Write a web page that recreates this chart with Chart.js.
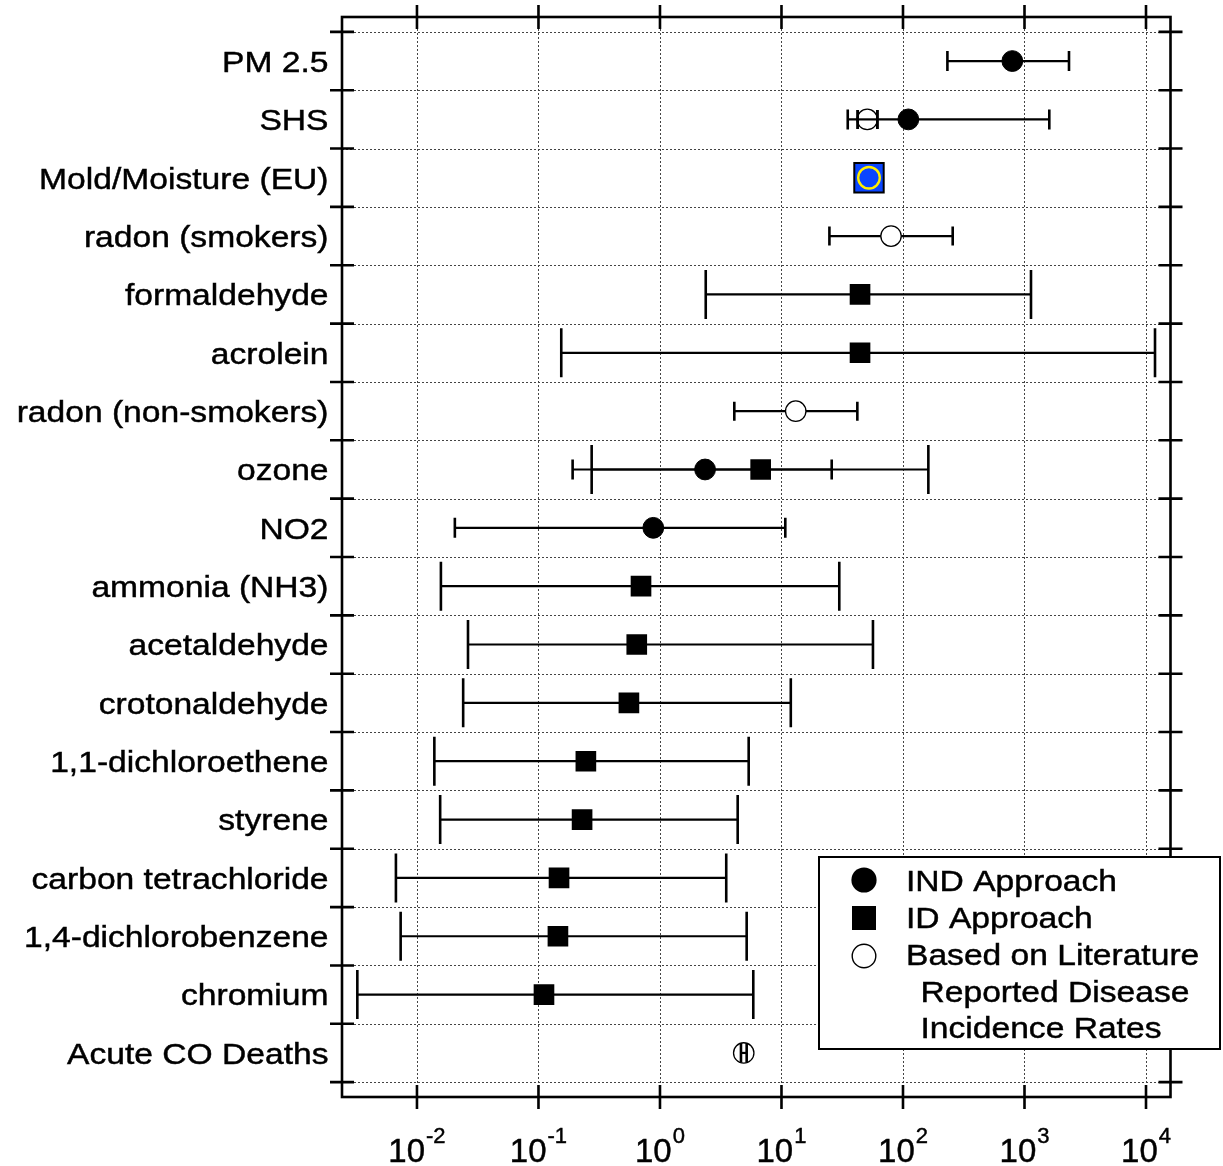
<!DOCTYPE html>
<html>
<head>
<meta charset="utf-8">
<script src="https://cdn.jsdelivr.net/npm/chart.js@4.4.0/dist/chart.umd.min.js"></script>
<style>
  html, body { margin: 0; padding: 0; background: #fff; }
  #wrap { position: relative; width: 1223px; height: 1166px; }
</style>
</head>
<body>
<div id="wrap"><canvas id="c" width="1223" height="1166"></canvas></div>
<script>
// Agents, top to bottom
const categories = [
  'PM 2.5', 'SHS', 'Mold/Moisture (EU)', 'radon (smokers)', 'formaldehyde',
  'acrolein', 'radon (non-smokers)', 'ozone', 'NO2', 'ammonia (NH3)',
  'acetaldehyde', 'crotonaldehyde', '1,1-dichloroethene', 'styrene',
  'carbon tetrachloride', '1,4-dichlorobenzene', 'chromium', 'Acute CO Deaths'
];

// IND approach: central estimate and range
const indValue = [794, 110.7, null, null, null, null, null, 2.35, 0.881, null, null, null, null, null, null, null, null, null];
const indLow   = [232, 35.1,  null, null, null, null, null, 0.191, 0.0205, null, null, null, null, null, null, null, null, null];
const indHigh  = [2324, 1600, null, null, null, null, null, 25.9, 10.75, null, null, null, null, null, null, null, null, null];

// ID approach: central estimate and range
const idValue = [null, null, null, null, 44.3, 44.3, null, 6.74, null, 0.698, 0.644, 0.555, 0.2455, 0.2285, 0.1476, 0.1446, 0.111, null];
const idLow   = [null, null, null, null, 2.38, 0.154, null, 0.274, null, 0.01574, 0.0263, 0.0240, 0.0139, 0.01552, 0.00671, 0.00734, 0.00323, null];
const idHigh  = [null, null, null, null, 1131, 11860, null, 161.7, null, 29.9, 56.6, 11.93, 5.37, 4.36, 3.51, 5.17, 5.86, null];

// Based on literature reported disease incidence rates
const litValue = [null, 50.8, null, 79.7, null, null, 13.1, null, null, null, null, null, null, null, null, null, null, 4.89];
const litLow   = [null, 42.4, null, 24.8, null, null, 4.09, null, null, null, null, null, null, null, null, null, null, 4.64];
const litHigh  = [null, 61.5, null, 256.5, null, null, 42.1, null, null, null, null, null, null, null, null, null, null, 5.17];

// EU mold/moisture estimate (highlighted)
const moldValue = [null, null, 52.5, null, null, null, null, null, null, null, null, null, null, null, null, null, null, null];

// Axis settings
const xTickExponents = [-2, -1, 0, 1, 2, 3, 4];
const xMin = Math.pow(10, -2.617);
const xMax = Math.pow(10, 4.2016);
const legendLines = [
  ['IND Approach'],
  ['ID Approach'],
  ['Based on Literature', 'Reported Disease', 'Incidence Rates']
];

const FONT = '"Liberation Sans", Arial, Helvetica, sans-serif';

function toPoints(vals, lows, highs) {
  const pts = [];
  vals.forEach((v, i) => {
    if (v === null) return;
    pts.push({ x: v, y: i, lo: lows ? lows[i] : null, hi: highs ? highs[i] : null });
  });
  return pts;
}

// lower "order" is painted on top
const datasets = [
  {
    label: 'ID Approach',
    data: toPoints(idValue, idLow, idHigh),
    order: 3,
    pointStyle: 'rect', pointRadius: 14.6, borderWidth: 0,
    backgroundColor: '#000', borderColor: '#000',
    capHalf: 24.5, markerHalf: 10.8
  },
  {
    label: 'IND Approach',
    data: toPoints(indValue, indLow, indHigh),
    order: 2,
    pointStyle: 'circle', pointRadius: 10.4, borderWidth: 1,
    backgroundColor: '#000', borderColor: '#000',
    capHalf: 10, markerHalf: 10.8
  },
  {
    label: 'Based on Literature Reported Disease Incidence Rates',
    data: toPoints(litValue, litLow, litHigh),
    order: 4,
    pointStyle: 'circle', pointRadius: 10.2, borderWidth: 1.3,
    backgroundColor: '#fff', borderColor: '#000',
    capHalf: 9.5, markerHalf: 10.8
  },
  {
    label: 'Mold/Moisture (EU)',
    data: toPoints(moldValue),
    order: 1,
    pointStyle: 'rect', pointRadius: 20.8, borderWidth: 2,
    backgroundColor: '#0a45ff', borderColor: '#000'
  },
  {
    label: 'Mold/Moisture (EU) ring',
    data: toPoints(moldValue),
    order: 0,
    pointStyle: 'circle', pointRadius: 10.8, borderWidth: 2.4,
    backgroundColor: 'rgba(0,0,0,0)', borderColor: '#ffee00'
  }
];

function drawErrorBars(chart, onlyNarrow) {
  const ctx = chart.ctx;
  const xs = chart.scales.x, ys = chart.scales.y;
  chart.data.datasets.forEach(ds => {
    if (!ds.capHalf) return;
    ds.data.forEach(p => {
      if (p.lo == null || p.hi == null) return;
      const y = ys.getPixelForValue(p.y);
      const x1 = xs.getPixelForValue(p.lo);
      const x2 = xs.getPixelForValue(p.hi);
      const narrow = (x2 - x1) < 2 * ds.markerHalf;
      if (onlyNarrow && !narrow) return;
      ctx.save();
      ctx.strokeStyle = '#000';
      ctx.lineCap = 'butt';
      ctx.lineWidth = 2.2;
      ctx.beginPath();
      ctx.moveTo(x1, y); ctx.lineTo(x2, y);
      ctx.stroke();
      ctx.lineWidth = 2.6;
      ctx.beginPath();
      ctx.moveTo(x1, y - ds.capHalf); ctx.lineTo(x1, y + ds.capHalf);
      ctx.moveTo(x2, y - ds.capHalf); ctx.lineTo(x2, y + ds.capHalf);
      ctx.stroke();
      ctx.restore();
    });
  });
}

// text with a faint outline so glyphs read as heavy as the print
function heavyText(ctx, t, x, y, sx) {
  ctx.save();
  ctx.translate(x, y);
  if (sx) ctx.scale(sx, 1);
  ctx.lineWidth = 0.45;
  ctx.strokeStyle = ctx.fillStyle;
  ctx.fillText(t, 0, 0);
  ctx.strokeText(t, 0, 0);
  ctx.restore();
}

const framePlugin = {
  id: 'frame',
  beforeDatasetsDraw(chart) {
    const ctx = chart.ctx, a = chart.chartArea;
    const xs = chart.scales.x, ys = chart.scales.y;
    ctx.save();
    ctx.strokeStyle = '#444';
    ctx.lineWidth = 1;
    ctx.setLineDash([2, 2]);
    // vertical grid at decades
    xTickExponents.forEach(e => {
      const x = Math.round(xs.getPixelForValue(Math.pow(10, e))) + 0.5;
      ctx.beginPath(); ctx.moveTo(x, a.top); ctx.lineTo(x, a.bottom); ctx.stroke();
    });
    // horizontal grid between rows
    for (let i = 0; i <= categories.length; i++) {
      const y = Math.round(ys.getPixelForValue(i - 0.5)) + 0.5;
      ctx.beginPath(); ctx.moveTo(a.left, y); ctx.lineTo(a.right, y); ctx.stroke();
    }
    ctx.restore();
    drawErrorBars(chart, false);
  },
  afterDatasetsDraw(chart) {
    const ctx = chart.ctx, a = chart.chartArea;
    const xs = chart.scales.x, ys = chart.scales.y;
    drawErrorBars(chart, true);

    // frame
    ctx.save();
    ctx.strokeStyle = '#000';
    ctx.lineWidth = 2.6;
    ctx.strokeRect(a.left, a.top, a.right - a.left, a.bottom - a.top);

    // tick marks crossing the frame
    const T = 12;
    ctx.lineWidth = 2.6;
    ctx.beginPath();
    xTickExponents.forEach(e => {
      const x = xs.getPixelForValue(Math.pow(10, e));
      ctx.moveTo(x, a.top - T); ctx.lineTo(x, a.top + T);
      ctx.moveTo(x, a.bottom - T); ctx.lineTo(x, a.bottom + T);
    });
    for (let i = 0; i <= categories.length; i++) {
      const y = ys.getPixelForValue(i - 0.5);
      ctx.moveTo(a.left - T, y); ctx.lineTo(a.left + T, y);
      ctx.moveTo(a.right - T, y); ctx.lineTo(a.right + T, y);
    }
    ctx.stroke();

    // x tick labels: 10 with superscript exponent
    ctx.fillStyle = '#000';
    ctx.textAlign = 'left';
    ctx.textBaseline = 'alphabetic';
    xTickExponents.forEach(e => {
      const x = xs.getPixelForValue(Math.pow(10, e));
      const exp = String(e);
      ctx.font = '33px ' + FONT;
      const w1 = ctx.measureText('10').width;
      ctx.font = '22px ' + FONT;
      const w2 = ctx.measureText(exp).width;
      const start = x - (w1 + w2 + 1) / 2;
      ctx.font = '33px ' + FONT;
      heavyText(ctx, '10', start, a.bottom + 64.5);
      ctx.font = '22px ' + FONT;
      heavyText(ctx, exp, start + w1 + 1, a.bottom + 46);
    });

    // category labels
    const sx = 1.12;
    ctx.font = '30px ' + FONT;
    ctx.textAlign = 'right';
    categories.forEach((c, i) => {
      const y = ys.getPixelForValue(i);
      heavyText(ctx, c, a.left - 13.5, y + 10.8, sx);
    });

    // legend box
    const lx = 819, ly = 857, lw = 401, lh = 192;
    ctx.fillStyle = '#fff';
    ctx.fillRect(lx, ly, lw, lh);
    ctx.lineWidth = 2;
    ctx.strokeStyle = '#000';
    ctx.strokeRect(lx, ly, lw, lh);

    const mx = 864;
    const rowY = [880, 918, 956];
    // filled circle
    ctx.fillStyle = '#000';
    ctx.beginPath(); ctx.arc(mx, rowY[0], 12.6, 0, Math.PI * 2); ctx.fill();
    // filled square
    ctx.fillRect(mx - 12, rowY[1] - 12, 24, 24);
    // open circle
    ctx.fillStyle = '#fff';
    ctx.lineWidth = 1.4;
    ctx.beginPath(); ctx.arc(mx, rowY[2], 11.8, 0, Math.PI * 2); ctx.fill(); ctx.stroke();

    ctx.fillStyle = '#000';
    ctx.font = '30px ' + FONT;
    ctx.textAlign = 'left';
    let row = 0;
    const lineStep = 36.9;
    legendLines.forEach(lines => {
      lines.forEach((t, k) => {
        const indent = k > 0 ? 14.5 : 0;
        heavyText(ctx, t, 906 + indent, 880 + row * lineStep + 10.8, sx);
        row++;
      });
    });
    ctx.restore();
  }
};

new Chart(document.getElementById('c'), {
  type: 'scatter',
  data: { datasets },
  options: {
    responsive: false,
    animation: false,
    events: [],
    layout: { autoPadding: false, padding: { left: 0, right: 52.5, top: 17, bottom: 0 } },
    plugins: { legend: { display: false }, tooltip: { enabled: false } },
    scales: {
      x: {
        type: 'logarithmic',
        min: xMin, max: xMax,
        grid: { display: false },
        border: { display: false },
        ticks: { display: false },
        afterBuildTicks: s => { s.ticks = xTickExponents.map(e => ({ value: Math.pow(10, e) })); },
        afterFit: s => { s.height = 69; s.paddingLeft = 0; s.paddingRight = 0; }
      },
      y: {
        type: 'linear',
        reverse: true,
        min: -0.755, max: categories.length - 1 + 0.755,
        grid: { display: false },
        border: { display: false },
        ticks: { display: false },
        afterBuildTicks: s => { s.ticks = categories.map((c, i) => ({ value: i })); },
        afterFit: s => { s.width = 342; s.paddingTop = 0; s.paddingBottom = 0; }
      }
    }
  },
  plugins: [framePlugin]
});
</script>
</body>
</html>
